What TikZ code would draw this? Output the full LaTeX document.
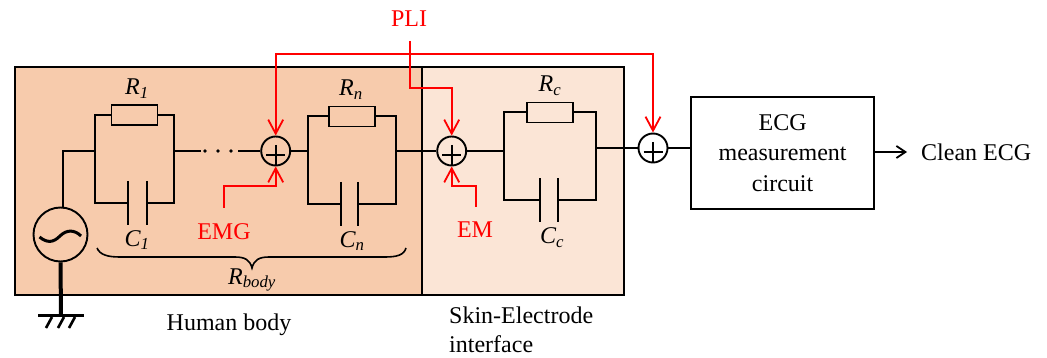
\documentclass[tikz,border=0pt]{standalone}
\usepackage{fontspec}
\setmainfont{Liberation Serif}
\usetikzlibrary{arrows.meta,calc}
\definecolor{bodyfill}{HTML}{F7CBAC}
\definecolor{skinfill}{HTML}{FBE5D6}
\tikzset{
  panel/.style={draw=black,line width=2.2pt,inner sep=0pt,minimum height=227.5pt},
  wire/.style={line width=2pt,black},
  heavy/.style={line width=2.8pt,black},
  sumnode/.style={circle,draw=black,line width=1.9pt,minimum size=29pt,inner sep=0pt},
  res/.style={draw=black,line width=1.8pt,minimum width=46pt,minimum height=20pt,inner sep=0pt},
  redline/.style={draw=red,line width=2pt},
  redarrow/.style={redline,-{Straight Barb[length=14pt,width=15pt,line width=1.8pt]}},
  lab/.style={font=\fontsize{24}{27}\selectfont,inner sep=0pt},
  redlab/.style={lab,text=red},
  plate/.style={line width=2pt,black},
}
\newcommand{\plusin}[1]{\draw[line width=1.8pt] ($(#1)+(-9.5,4)$) -- ($(#1)+(9.5,4)$) ($(#1)+(0,-6)$) -- ($(#1)+(0,15)$);}
\newcommand{\rcrung}[7]{%
\node[res] (#1) at ({(#2+#3)/2},#4) {};
\draw[wire] (#1.west) -- (#2,#4) -- (#2,#5) -- (#6,#5);
\draw[wire] (#1.east) -- (#3,#4) -- (#3,#5) -- (#7,#5);
\draw[plate] (#6,#5-22) -- (#6,#5+22);
\draw[plate] (#7,#5-22) -- (#7,#5+22);
}
\begin{document}
\begin{tikzpicture}[x=1pt,y=-1pt]
\useasboundingbox (0,0) rectangle (1047,358);
% panels
\node[panel,fill=bodyfill,minimum width=407pt,anchor=north west] (body) at (14,66) {};
\node[panel,fill=skinfill,minimum width=201.5pt,anchor=north west] (skin) at (421,66) {};
% RC groups
\rcrung{r1}{95}{174}{115}{203}{128}{147}
\rcrung{rn}{308}{396}{116.5}{204}{341}{358}
\rcrung{rc}{503.5}{596}{112.5}{200.5}{540}{558}
% source and ground
\node[circle,draw=black,line width=1.9pt,minimum size=54pt,inner sep=0pt] (src) at (60.5,234.5) {};
\coordinate (srctop) at (63,151);
\coordinate (srcin) at (63,208);
\coordinate (j1) at (95,151);
\coordinate (gnd) at (61,315);
\draw[wire] (srcin) -- (srctop) -- (j1);
\draw[line width=3pt] (39.5,237) .. controls (47,243) and (53,243) .. (60,236) .. controls (67,229) and (75,230) .. (81,236);
\draw[line width=4pt] (src.south) -- (gnd);
\draw[line width=3pt] (38,315) -- (84,315);
\draw[line width=2.6pt] (52,317) -- (46,328) (64,317) -- (58,328) (75,317) -- (69,328);
% sums
\node[sumnode] (s1) at (275.7,151) {};
\node[sumnode] (s2) at (451.7,151) {};
\node[sumnode] (s3) at (653,148) {};
\plusin{s1}\plusin{s2}\plusin{s3}
% measurement box
\node[draw=black,line width=2.2pt,fill=white,minimum width=183pt,minimum height=112pt,inner sep=0pt,anchor=north west,
  align=center,font=\fontsize{24}{30.5}\selectfont] (ecg) at (690,96) {ECG\\measurement\\circuit};
% series wires
\draw[wire] (174,151) -- (201,151);
\foreach \dx in {205,218,231} \fill (\dx,151) circle (1.8pt);
\draw[heavy] (238,151) -- (s1.west);
\draw[wire] (s1.east) -- (308,151);
\draw[wire] (396,151) -- (s2.west);
\draw[wire] (s2.east) -- (503.5,151);
\draw[wire] (596,148) -- (s3.west);
\draw[wire] (s3.east) -- (s3.east -| ecg.west);
\node[lab,anchor=west] (clean) at (921,152) {Clean ECG};
\coordinate (cleanin) at (907,152);
\draw[wire,-{Straight Barb[length=9pt,width=12pt,line width=1.8pt]}] (ecg.east |- clean) -- (cleanin);
% red
\node[redlab] (pli) at (409,19) {PLI};
\coordinate (plistem) at (410,41);
\coordinate (bus) at (410,54);
\coordinate (bend) at (410,88);
\coordinate (emgup) at (224,186.5);
\coordinate (emup) at (476,186.5);
\draw[redarrow] (plistem) -- (bend) -- (s2 |- bend) -- (s2.north);
\draw[redarrow] (bus) -- (s1 |- bus) -- (s1.north);
\draw[redarrow] (bus) -- (s3 |- bus) -- (s3.north);
\node[redlab] (emg) at (224,232) {EMG};
\node[redlab] (em) at (475,230) {EM};
\draw[redarrow] (224,208) -- (emgup) -- (s1 |- emgup) -- (s1.south);
\draw[redarrow] (476,207) -- (emup) -- (s2 |- emup) -- (s2.south);
% brace
\draw[line width=1.6pt] (97,248) .. controls (100,255) and (108,257) .. (120,257) -- (235,257) .. controls (245,257) and (250,260) .. (252,268) .. controls (254,260) and (259,257) .. (269,257) -- (385,257) .. controls (397,257) and (404,255) .. (406,248);
% labels
\node[lab] (lr1) at (137,89) {\textit{R\textsubscript{1}}};
\node[lab] (lc1) at (137,240) {\textit{C\textsubscript{1}}};
\node[lab] (lrn) at (351,90) {\textit{R\textsubscript{n}}};
\node[lab] (lcn) at (352,241) {\textit{C\textsubscript{n}}};
\node[lab] (lrc) at (550,86) {\textit{R\textsubscript{c}}};
\node[lab] (lcc) at (552,238) {\textit{C\textsubscript{c}}};
\node[lab] (lrb) at (252,280) {\textit{R\textsubscript{body}}};
\node[lab] (hb) at (229,325) {Human body};
\node[lab,anchor=west] (se) at (449,315) {Skin-Electrode};
\node[lab,anchor=west] (if) at (449,344) {interface};
\end{tikzpicture}
\end{document}
